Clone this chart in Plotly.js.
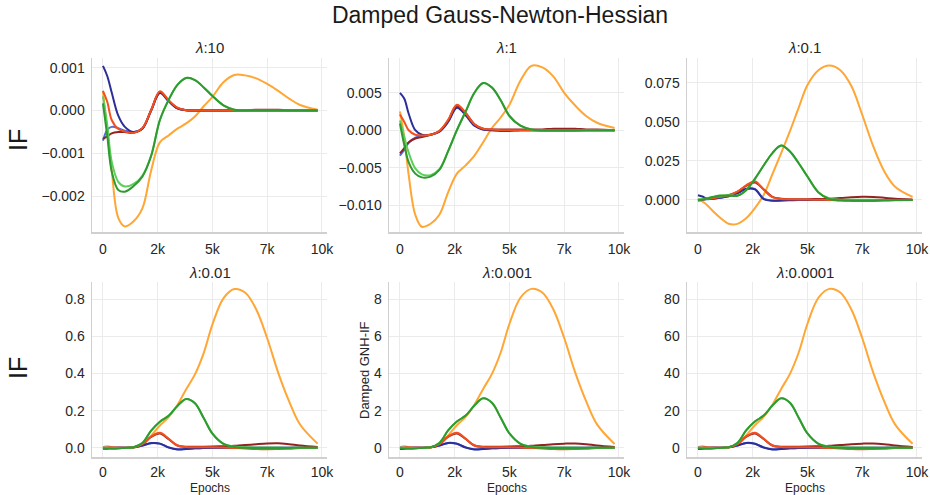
<!DOCTYPE html>
<html>
<head>
<meta charset="utf-8">
<script src="https://cdn.plot.ly/plotly-3.0.1.min.js"></script>
<style>html,body{margin:0;padding:0;background:#fff;}#chart{width:930px;height:495px;}</style>
</head>
<body>
<div id="chart"></div>
<script>
// Epoch grid shared by every series
const epochs = [0,200,400,700,1000,1400,1800,2200,2600,3000,3400,3800,4200,4600,5000,5500,6000,6500,7000,7500,8000,8500,9000,9800];

const panelTitles = ['<i>λ</i>:10','<i>λ</i>:1','<i>λ</i>:0.1','<i>λ</i>:0.01','<i>λ</i>:0.001','<i>λ</i>:0.0001'];
const xTickVals = [0,2500,5000,7500,10000];
const xTickText = ['0','2k','5k','7k','10k'];
const yTicks = [
  [-0.002,-0.001,0,0.001],
  [-0.010,-0.005,0,0.005],
  [0,0.025,0.050,0.075],
  [0,0.2,0.4,0.6,0.8],
  [0,2,4,6,8],
  [0,20,40,60,80]
];
const yFormats = ['.3f','.3f','.3f','.1f','d','d'];

// λ = 10
const navy10   = [0.00104,0.00080,0.00042,-0.00012,-0.00038,-0.00050,-0.00042,0.00000,0.00041,0.00022,0.00005,0.00001,0,0,0,0,0,0,0,0,0,0,0,0];
const lblue10  = [-0.00070,-0.00045,-0.00038,-0.00041,-0.00047,-0.00050,-0.00042,0.00000,0.00042,0.00022,0.00005,0.00001,0,0,0,0,0,0,0,0,0,0,0,0];
const dred10   = [-0.00066,-0.00060,-0.00053,-0.00050,-0.00050,-0.00052,-0.00042,0.00001,0.00043,0.00023,0.00006,0.00001,0,0,0,0,0.00001,0.00001,0.00002,0.00002,0.00002,0.00001,0.00001,0];
const ored10   = [0.00046,0.00020,-0.00022,-0.00043,-0.00049,-0.00052,-0.00041,0.00001,0.00045,0.00024,0.00007,0.00001,0,0,0,0,0,0,-0.00001,-0.00001,-0.00001,0,0,0];
const lgreen10 = [0.00033,-0.00035,-0.00119,-0.00166,-0.00177,-0.00171,-0.00152,-0.00105,-0.00022,0.00025,0.00060,0.00076,0.00071,0.00054,0.00034,0.00012,0.00002,0,0,0,0,0,0,0];
const dgreen10 = [0.00017,-0.00060,-0.00142,-0.00185,-0.00189,-0.00176,-0.00154,-0.00106,-0.00022,0.00025,0.00060,0.00076,0.00071,0.00054,0.00034,0.00012,0.00002,0,0,0,0,0,0,0];
const orange10 = [0.00046,-0.00050,-0.00140,-0.00250,-0.00270,-0.00258,-0.00228,-0.00140,-0.00074,-0.00058,-0.00042,-0.00030,-0.00014,0.00010,0.00032,0.00066,0.00083,0.00082,0.00075,0.00062,0.00046,0.00028,0.00013,0.00002];

// λ = 1
const navy1   = [0.0050,0.0042,0.0022,0.0000,-0.0006,-0.0006,-0.0002,0.0011,0.0030,0.0020,0.0006,0.0001,0,-0.0001,-0.0001,0,0,0,0,0,0,0,0,0];
const lblue1  = [-0.0034,-0.0026,-0.0017,-0.0010,-0.0008,-0.0006,-0.0002,0.0012,0.0031,0.0021,0.0007,0.0001,0,0,0,0,0,0,0,0,0,0,0,0];
const dred1   = [-0.0031,-0.0024,-0.0016,-0.0011,-0.0009,-0.0006,-0.0001,0.0013,0.0033,0.0023,0.0008,0.0002,0.0001,0.0001,0.0001,0.0001,0.0001,0.0001,0.0002,0.0002,0.0002,0.0001,0.0001,0];
const ored1   = [0.0021,0.0011,0.0000,-0.0006,-0.0007,-0.0006,-0.0001,0.0014,0.0034,0.0023,0.0008,0.0002,0.0001,0,0,0,0,-0.0001,-0.0001,-0.0001,-0.0001,0,0,0];
const lgreen1 = [0.0013,-0.0009,-0.0030,-0.0051,-0.0059,-0.0060,-0.0052,-0.0028,0.0000,0.0025,0.0050,0.0063,0.0057,0.0040,0.0019,0.0006,0.0001,0,0,0,0,0,0,0];
const dgreen1 = [0.0009,-0.0020,-0.0043,-0.0058,-0.0063,-0.0062,-0.0053,-0.0028,0.0000,0.0025,0.0050,0.0063,0.0057,0.0040,0.0019,0.0006,0.0001,0,0,0,0,0,0,0];
const orange1 = [0.0025,-0.0010,-0.0060,-0.0113,-0.0129,-0.0125,-0.0113,-0.0083,-0.0058,-0.0047,-0.0034,-0.0016,0.0003,0.0017,0.0034,0.0066,0.0086,0.0084,0.0072,0.0050,0.0033,0.0019,0.0010,0.0003];

// λ = 0.1
const navy01   = [0.0030,0.0022,0.0010,0.0008,0.0014,0.0024,0.0042,0.0070,0.0068,0.0005,-0.0005,-0.0004,-0.0002,0,0,0,0,0,0,0,0,0,0,0];
const lblue01  = [-0.0005,0.0000,0.0004,0.0008,0.0014,0.0024,0.0044,0.0072,0.0070,0.0008,-0.0004,-0.0003,-0.0001,0,0,0,0,0,0,0,0,0,0,0];
const dred01   = [0.0000,0.0003,0.0006,0.0011,0.0018,0.0030,0.0052,0.0090,0.0112,0.0068,0.0020,0.0008,0.0005,0.0005,0.0005,0.0006,0.0008,0.0012,0.0017,0.0020,0.0019,0.0014,0.0008,0.0003];
const ored01   = [0.0000,0.0003,0.0006,0.0011,0.0018,0.0030,0.0053,0.0093,0.0120,0.0066,0.0018,0.0006,0.0004,0.0003,0.0003,0.0001,0.0000,-0.0004,-0.0006,-0.0007,-0.0006,-0.0004,-0.0002,0.0000];
const lgreen01 = [0.0005,0.0006,0.0010,0.0020,0.0028,0.0030,0.0028,0.0062,0.0135,0.0220,0.0300,0.0348,0.0310,0.0235,0.0150,0.0050,0.0009,0.0002,0.0001,0.0001,0.0001,0,0,0];
const dgreen01 = [-0.0002,0.0002,0.0009,0.0019,0.0027,0.0029,0.0027,0.0062,0.0135,0.0220,0.0300,0.0348,0.0310,0.0235,0.0150,0.0048,0.0006,-0.0002,-0.0003,-0.0003,-0.0003,-0.0002,-0.0001,0];
const orange01 = [0.0006,-0.0010,-0.0030,-0.0074,-0.0112,-0.0152,-0.0153,-0.0117,-0.0052,0.0032,0.0165,0.0300,0.0440,0.0590,0.0735,0.0830,0.0860,0.0830,0.0730,0.0545,0.0345,0.0185,0.0085,0.0020];

// λ = 0.01
const navy001   = [-0.002,-0.001,0.000,0.000,0.000,0.002,0.012,0.025,0.022,0.001,-0.009,-0.007,-0.003,-0.001,0,0,0,0,0,0,0,0,0,0];
const lblue001  = [0.001,0.000,-0.001,0.000,0.000,0.002,0.012,0.024,0.022,0.002,-0.008,-0.006,-0.003,-0.001,0,0,0,0,0,0,0,0,0,0];
const dred001   = [-0.006,-0.005,-0.002,0.000,0.000,0.002,0.018,0.058,0.076,0.046,0.012,0.005,0.005,0.005,0.006,0.008,0.010,0.014,0.019,0.023,0.024,0.019,0.012,0.004];
const ored001   = [-0.002,0.000,0.001,0.000,0.000,0.002,0.019,0.060,0.080,0.048,0.012,0.004,0.003,0.003,0.003,0.001,-0.001,-0.004,-0.007,-0.008,-0.007,-0.005,-0.002,0.000];
const lgreen001 = [0.000,-0.002,-0.004,-0.003,0.000,0.003,0.025,0.092,0.140,0.172,0.225,0.263,0.240,0.160,0.076,0.022,0.006,0.002,0.001,0.001,0.001,0,0,0];
const dgreen001 = [-0.003,-0.004,-0.005,-0.004,-0.001,0.003,0.025,0.092,0.140,0.172,0.225,0.263,0.240,0.160,0.076,0.021,0.004,0.000,-0.001,-0.001,-0.001,-0.001,0,0];
const orange001 = [0.003,0.008,0.004,0.000,-0.002,0.000,0.015,0.065,0.120,0.165,0.230,0.315,0.395,0.510,0.665,0.805,0.855,0.835,0.745,0.590,0.405,0.250,0.125,0.022];

// λ = 0.001
const navy0001   = [-0.02,-0.01,0.00,0.00,0.00,0.02,0.12,0.26,0.21,0.01,-0.09,-0.07,-0.03,-0.01,0,0,0,0,0,0,0,0,0,0];
const lblue0001  = [0.01,0.00,-0.01,0.00,0.00,0.02,0.12,0.25,0.22,0.02,-0.08,-0.06,-0.03,-0.01,0,0,0,0,0,0,0,0,0,0];
const dred0001   = [-0.07,-0.05,-0.02,0.00,0.00,0.02,0.18,0.59,0.77,0.47,0.12,0.05,0.05,0.05,0.06,0.08,0.10,0.14,0.19,0.22,0.23,0.19,0.12,0.04];
const ored0001   = [-0.02,0.00,0.01,0.00,0.00,0.02,0.19,0.61,0.81,0.49,0.12,0.04,0.03,0.03,0.03,0.01,-0.01,-0.04,-0.07,-0.08,-0.07,-0.05,-0.02,0.00];
const lgreen0001 = [0.00,-0.02,-0.04,-0.03,0.00,0.03,0.26,0.93,1.41,1.73,2.27,2.66,2.42,1.62,0.77,0.22,0.06,0.02,0.01,0.01,0.01,0,0,0];
const dgreen0001 = [-0.03,-0.04,-0.05,-0.04,-0.01,0.03,0.26,0.93,1.41,1.73,2.27,2.66,2.42,1.62,0.77,0.21,0.04,0.00,-0.01,-0.01,-0.01,-0.01,0,0];
const orange0001 = [0.03,0.08,0.04,0.00,-0.02,0.00,0.16,0.66,1.21,1.66,2.32,3.17,3.98,5.13,6.68,8.08,8.56,8.36,7.46,5.91,4.06,2.51,1.26,0.20];

// λ = 0.0001
const navy00001   = [-0.2,-0.1,0.0,0.0,0.0,0.2,1.2,2.6,2.1,0.1,-0.9,-0.7,-0.3,-0.1,0,0,0,0,0,0,0,0,0,0];
const lblue00001  = [0.1,0.0,-0.1,0.0,0.0,0.2,1.2,2.5,2.2,0.2,-0.8,-0.6,-0.3,-0.1,0,0,0,0,0,0,0,0,0,0];
const dred00001   = [-0.7,-0.5,-0.2,0.0,0.0,0.2,1.8,5.9,7.7,4.7,1.2,0.5,0.5,0.5,0.6,0.8,1.0,1.4,1.9,2.2,2.3,1.9,1.2,0.4];
const ored00001   = [-0.2,0.0,0.1,0.0,0.0,0.2,1.9,6.1,8.1,4.9,1.2,0.4,0.3,0.3,0.3,0.1,-0.1,-0.4,-0.7,-0.8,-0.7,-0.5,-0.2,0.0];
const lgreen00001 = [0.0,-0.2,-0.4,-0.3,0.0,0.3,2.6,9.3,14.1,17.3,22.7,26.6,24.2,16.2,7.7,2.2,0.6,0.2,0.1,0.1,0.1,0,0,0];
const dgreen00001 = [-0.3,-0.4,-0.5,-0.4,-0.1,0.3,2.6,9.3,14.1,17.3,22.7,26.6,24.2,16.2,7.7,2.1,0.4,0.0,-0.1,-0.1,-0.1,-0.1,0,0];
const orange00001 = [0.3,0.8,0.4,0.0,-0.2,0.0,1.6,6.6,12.1,16.6,23.2,31.7,39.8,51.3,66.8,80.8,85.6,83.6,74.6,59.1,40.6,25.1,12.6,2.1];

const seriesColors = {
  orange:'#ffa634', navy:'#2e2e99', lblue:'#4f6fe0', dred:'#952222', ored:'#f2501c', lgreen:'#5ccf5c', dgreen:'#2f9a2f'
};
const panelSeries = [
  {orange:orange10, navy:navy10, lblue:lblue10, dred:dred10, ored:ored10, lgreen:lgreen10, dgreen:dgreen10},
  {orange:orange1, navy:navy1, lblue:lblue1, dred:dred1, ored:ored1, lgreen:lgreen1, dgreen:dgreen1},
  {orange:orange01, navy:navy01, lblue:lblue01, dred:dred01, ored:ored01, lgreen:lgreen01, dgreen:dgreen01},
  {orange:orange001, navy:navy001, lblue:lblue001, dred:dred001, ored:ored001, lgreen:lgreen001, dgreen:dgreen001},
  {orange:orange0001, navy:navy0001, lblue:lblue0001, dred:dred0001, ored:ored0001, lgreen:lgreen0001, dgreen:dgreen0001},
  {orange:orange00001, navy:navy00001, lblue:lblue00001, dred:dred00001, ored:ored00001, lgreen:lgreen00001, dgreen:dgreen00001}
];
const drawOrder = ['orange','lblue','navy','dred','ored','lgreen','dgreen'];

const W = 930, H = 495;
const colPx = [[92,327],[389,624],[687,922]];
const rowPx = [[58,232],[282,457]];
const yRanges = [[-0.00283,0.001225],[-0.0136,0.00965],[-0.0205,0.0908],[-0.05,0.893],[-0.5,8.93],[-5,89.3]];

const traces = [];
const layout = {
  width: W, height: H,
  margin: {l:0,r:0,t:0,b:0},
  paper_bgcolor:'#ffffff', plot_bgcolor:'#ffffff',
  showlegend:false,
  font:{family:'"Liberation Sans", Arial, sans-serif', color:'#262626'},
  title:{text:'Damped Gauss-Newton-Hessian', x:500/W, y:1-15/H, xanchor:'center', yanchor:'middle',
         font:{size:23, color:'#1a1a1a', family:'"Liberation Sans", Arial, sans-serif'}},
  annotations: []
};

for (let p = 0; p < 6; p++) {
  const col = p % 3, row = Math.floor(p/3);
  const sfx = p === 0 ? '' : String(p+1);
  const xa = 'x' + sfx, ya = 'y' + sfx;
  drawOrder.forEach(k => {
    traces.push({
      x: epochs, y: panelSeries[p][k], xaxis: xa, yaxis: ya,
      type:'scatter', mode:'lines',
      line:{color: seriesColors[k], width:2, shape:'spline', smoothing:1},
      hoverinfo:'skip'
    });
  });
  const axCommon = {
    showline:true, linecolor:'#d0d0d0', linewidth:1.5, mirror:false,
    showgrid:true, gridcolor:'#ebebeb', gridwidth:1, zeroline:false,
    ticks:'outside', tickcolor:'rgba(0,0,0,0)',
    tickfont:{size:14, color:'#262626'}
  };
  layout['xaxis'+sfx] = Object.assign({}, axCommon, {
    domain:[colPx[col][0]/W, colPx[col][1]/W], anchor: ya,
    range:[-500, 10230], tickmode:'array', tickvals:xTickVals, ticktext:xTickText,
    ticklen: row === 1 ? 2 : 4
  });
  layout['yaxis'+sfx] = Object.assign({}, axCommon, {
    domain:[1-rowPx[row][1]/H, 1-rowPx[row][0]/H], anchor: xa,
    range: yRanges[p], tickmode:'array', tickvals: yTicks[p], tickformat: yFormats[p], ticklen:3
  });
  layout.annotations.push({
    text: panelTitles[p], xref:'paper', yref:'paper',
    x:(colPx[col][0]+colPx[col][1])/2/W, y: 1-(rowPx[row][0]-10)/H,
    xanchor:'center', yanchor:'middle', showarrow:false,
    font:{size:15, color:'#262626'}
  });
  if (row === 1) {
    layout.annotations.push({
      text:'Epochs', xref:'paper', yref:'paper',
      x:(colPx[col][0]+colPx[col][1])/2/W, y:1-488/H,
      xanchor:'center', yanchor:'middle', showarrow:false,
      font:{size:12, color:'#262626'}
    });
  }
}
layout.annotations.push({text:'IF', xref:'paper', yref:'paper', x:18/W, y:1-140/H, textangle:-90,
  xanchor:'center', yanchor:'middle', showarrow:false, font:{size:25, color:'#1a1a1a'}});
layout.annotations.push({text:'IF', xref:'paper', yref:'paper', x:18/W, y:1-368/H, textangle:-90,
  xanchor:'center', yanchor:'middle', showarrow:false, font:{size:25, color:'#1a1a1a'}});
layout.annotations.push({text:'Damped GNH-IF', xref:'paper', yref:'paper', x:364/W, y:1-370/H, textangle:-90,
  xanchor:'center', yanchor:'middle', showarrow:false, font:{size:13, color:'#262626'}});

Plotly.newPlot('chart', traces, layout, {staticPlot:true, displayModeBar:false});
</script>
</body>
</html>
